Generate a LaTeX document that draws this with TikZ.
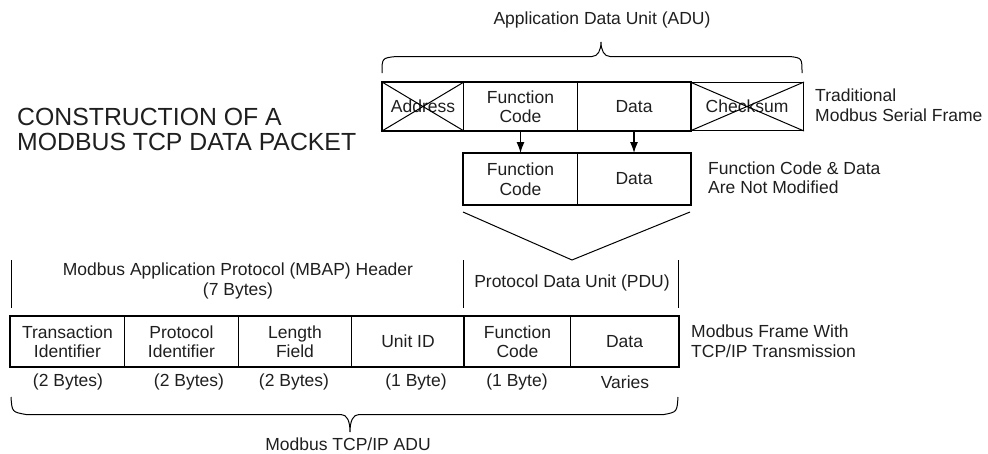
\documentclass[tikz,border=0pt]{standalone}
\usepackage{fontspec}
\setmainfont{Liberation Sans}
\usetikzlibrary{arrows.meta}
\begin{document}
\begin{tikzpicture}[x=1pt,y=-1pt,
  txt/.style={font=\fontsize{17.5}{19.5}\selectfont, text=black!88, align=center, inner sep=0pt},
  cell/.style={txt, draw, line width=1pt, anchor=north west},
  topcell/.style={cell, minimum height=48pt},
  botcell/.style={cell, minimum height=50pt},
  thickln/.style={line width=2.6pt},
  thinln/.style={line width=1pt},
  lbl/.style={txt, align=left, anchor=west},
  arr/.style={line width=1.2pt, -{Latex[length=11pt,width=8pt]}},
]
\useasboundingbox (0,0) rectangle (988,453);

% title
\node[anchor=west, inner sep=0pt, align=left, text=black!88,
  font=\fontsize{24.8}{25.5}\selectfont] (title) at (17,129.5)
  {CONSTRUCTION OF A\\MODBUS TCP DATA PACKET};

% traditional serial frame
\node[topcell, minimum width=81pt] (addr) at (382,82) {Address};
\node[topcell, minimum width=114pt] (fc1) at (463,82) {Function\\Code};
\node[topcell, minimum width=113pt] (data1) at (577,82) {Data};
\node[topcell, minimum width=113pt] (chk) at (690,82) {Checksum};
\draw[thinln] (addr.north west) -- (addr.south east) (addr.north east) -- (addr.south west);
\draw[thinln] (chk.north west) -- (chk.south east) (chk.north east) -- (chk.south west);
\draw[thickln] (addr.north west) rectangle (data1.south east);
\node[lbl] (lblser) at (815,105) {Traditional\\Modbus Serial Frame};

% ADU brace
\draw[thinln] (382,73) .. controls (382,58) .. (396,56.5) -- (592,56.5)
  .. controls (598,56.5) and (601,50) .. (601,42)
  .. controls (601,50) and (604,56.5) .. (610,56.5) -- (790,56.5)
  .. controls (802,58) .. (802,73);
\node[txt] (adu) at (602,20) {Application Data Unit (ADU)};

% unmodified PDU
\node[cell, minimum height=51pt, minimum width=114pt] (fc2) at (463,153) {Function\\Code};
\node[cell, minimum height=51pt, minimum width=113pt] (data2) at (577,153) {Data};
\draw[thickln] (fc2.north west) rectangle (data2.south east);
\draw[arr] (fc1.south) -- (fc2.north);
\draw[arr] (data1.south) -- (data2.north);
\node[lbl] (lblmod) at (708,177.5) {Function Code \& Data\\Are Not Modified};

% V
\coordinate (vl) at (463,212);
\coordinate (vt) at (572,260);
\coordinate (vr) at (690,212);
\draw[thinln] (vl) -- (vt) -- (vr);

% MBAP / PDU headers
\coordinate (m1a) at (11,260); \coordinate (m1b) at (11,308);
\coordinate (m2a) at (463.5,260); \coordinate (m2b) at (463.5,308);
\coordinate (m3a) at (678,260); \coordinate (m3b) at (678,308);
\draw[thinln] (m1a) -- (m1b) (m2a) -- (m2b) (m3a) -- (m3b);
\node[txt] (mbap) at (238,281) {Modbus Application Protocol (MBAP) Header\\(7 Bytes)};
\node[txt] (pdu) at (572,283) {Protocol Data Unit (PDU)};

% TCP frame
\node[botcell, minimum width=114pt] (tid) at (10,316) {Transaction\\Identifier};
\node[botcell, minimum width=114pt] (pid) at (124,316) {Protocol\\Identifier};
\node[botcell, minimum width=113pt] (len) at (238,316) {Length\\Field};
\node[botcell, minimum width=113pt] (uid) at (351,316) {Unit ID};
\node[botcell, minimum width=106pt] (fc3) at (464,316) {Function\\Code};
\node[botcell, minimum width=108pt] (data3) at (570,316) {Data};
\draw[thickln] (tid.north west) rectangle (data3.south east);
\draw[thickln] (fc3.north west) -- (fc3.south west);
\node[lbl] (lbltcp) at (691,341) {Modbus Frame With\\TCP/IP Transmission};

% sizes
\node[txt] (b1) at (68,382) {(2 Bytes)};
\node[txt] (b2) at (189,382) {(2 Bytes)};
\node[txt] (b3) at (294,382) {(2 Bytes)};
\node[txt] (b4) at (416,382) {(1 Byte)};
\node[txt] (b5) at (517,382) {(1 Byte)};
\node[txt] (b6) at (625,382) {Varies};

% TCP ADU brace
\draw[thinln] (11,397) .. controls (12,412) .. (26,414.5) -- (341,414.5)
  .. controls (347,414.5) and (350,421) .. (350,432)
  .. controls (350,421) and (353,414.5) .. (359,414.5) -- (664,414.5)
  .. controls (677,412) .. (678,397);
\node[txt] (tcpadu) at (348,444.5) {Modbus TCP/IP ADU};
\end{tikzpicture}
\end{document}
